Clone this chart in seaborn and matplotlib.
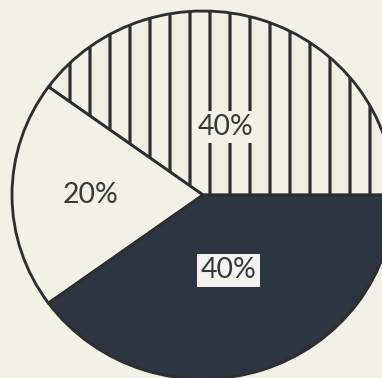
import matplotlib.pyplot as plt
import numpy as np
import seaborn as sns

sns.set_theme(style="white")

# slices, counter-clockwise from 3 o'clock
shares = [40, 20, 40]
labels = ["40%", "20%", "40%"]
fills = ["#f3f0e8", "#f3f0e8", "#2d3442"]
hatches = ["|", "", ""]
# how far from centre each label sits (fraction of radius)
label_r = [0.39, 0.59, 0.43]

paper = "#f3f0e8"
ink = "#2e2e30"

# dpi 120 makes the '|' hatch spacing ~20 px like the drawing
DPI = 120
plt.rcParams["hatch.linewidth"] = 1.9
plt.rcParams["hatch.color"] = "#3a3a3c"

fig = plt.figure(figsize=(382 / DPI, 378 / DPI), dpi=DPI, facecolor=paper)
ax = fig.add_axes([0, 0, 1, 1])
ax.set_facecolor(paper)

wedges, _ = ax.pie(shares, colors=fills, startangle=0, counterclock=True,
                   wedgeprops=dict(edgecolor=ink, linewidth=1.7))
for w, h in zip(wedges, hatches):
    w.set_hatch(h)

for i, w in enumerate(wedges):
    mid = np.deg2rad((w.theta1 + w.theta2) / 2)
    x, y = label_r[i] * np.cos(mid), label_r[i] * np.sin(mid)
    box = None
    if i == 0:
        box = dict(boxstyle="square,pad=0.1", fc=paper, ec="none")
    if i == 2:
        box = dict(boxstyle="square,pad=0.12", fc="#f5f3ee", ec="none")
    ax.text(x, y, labels[i], ha="center", va="center", fontsize=17,
            color="#38383a", family="Lato", fontweight="normal", bbox=box)

rx, ry = 191, 184
ax.set_xlim(-203 / rx, (382 - 203) / rx)
ax.set_ylim(-(378 - 195) / ry, 195 / ry)
ax.set_aspect("auto")
ax.axis("off")

plt.savefig("out.png", dpi=DPI, facecolor=paper)
